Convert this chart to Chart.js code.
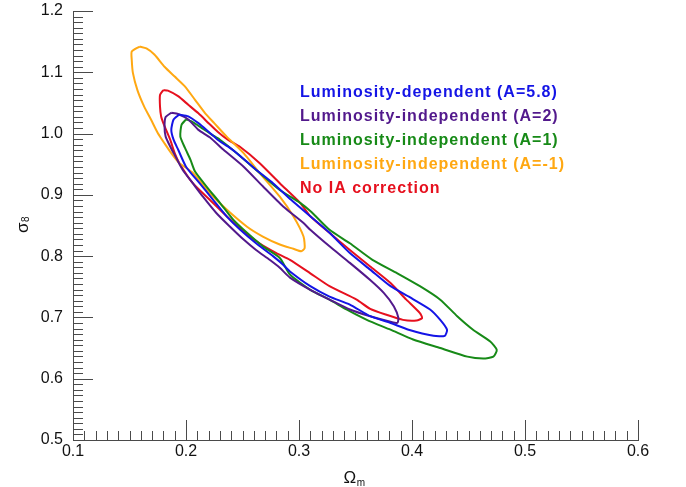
<!DOCTYPE html>
<html>
<head>
<meta charset="utf-8">
<script src="https://cdn.jsdelivr.net/npm/chart.js@4/dist/chart.umd.min.js"></script>
<style>
  html, body { margin: 0; background: #fff; }
  #wrap { width: 686px; height: 487px; }
</style>
</head>
<body>
<div id="wrap"><canvas id="c"></canvas></div>
<script>
// axis ticks
const xTickValues = [0.1, 0.2, 0.3, 0.4, 0.5, 0.6];
const yTickValues = [0.5, 0.6, 0.7, 0.8, 0.9, 1.0, 1.1, 1.2];
const xMinorPerMajor = 10;
const yMinorPerMajor = 11;

const seriesNames = [
  "Luminosity-dependent (A=5.8)",
  "Luminosity-independent (A=2)",
  "Luminosity-independent (A=1)",
  "Luminosity-independent (A=-1)",
  "No IA correction"
];
const seriesColors = ["#1414e6", "#52198c", "#178a17", "#ffa812", "#e6101e"];

// contour outlines, Omega_m / sigma_8
const omLumDep = [0.194,0.202,0.211,0.220,0.228,0.237,0.245,0.262,0.277,0.293,0.310,0.327,0.345,0.363,0.381,0.398,0.416,0.425,0.431,0.429,0.419,0.397,0.381,0.363,0.345,0.327,0.310,0.292,0.286,0.277,0.262,0.248,0.236,0.224,0.212,0.200,0.193,0.189,0.187,0.189];
const s8LumDep = [1.031,1.028,1.017,1.003,0.990,0.979,0.968,0.941,0.919,0.892,0.865,0.838,0.805,0.778,0.751,0.733,0.713,0.696,0.680,0.670,0.670,0.680,0.691,0.702,0.721,0.734,0.751,0.775,0.786,0.800,0.821,0.843,0.865,0.892,0.919,0.946,0.974,0.990,1.006,1.023];

const omIndepA2 = [0.187,0.193,0.202,0.211,0.221,0.233,0.251,0.268,0.286,0.304,0.310,0.327,0.345,0.363,0.375,0.384,0.388,0.387,0.381,0.363,0.345,0.327,0.310,0.292,0.283,0.274,0.262,0.251,0.239,0.227,0.215,0.206,0.197,0.190,0.186,0.182,0.181,0.182];
const s8IndepA2 = [1.034,1.032,1.023,1.006,0.994,0.974,0.946,0.914,0.881,0.854,0.843,0.816,0.789,0.761,0.740,0.718,0.699,0.691,0.693,0.702,0.713,0.729,0.745,0.765,0.781,0.794,0.810,0.827,0.848,0.870,0.897,0.919,0.941,0.965,0.979,0.995,1.012,1.027];

const omIndepA1 = [0.200,0.205,0.214,0.223,0.230,0.245,0.265,0.283,0.301,0.311,0.327,0.345,0.365,0.387,0.407,0.425,0.440,0.454,0.469,0.475,0.472,0.463,0.449,0.425,0.401,0.381,0.360,0.342,0.327,0.310,0.292,0.283,0.268,0.254,0.242,0.230,0.218,0.208,0.204,0.199,0.195,0.196];
const s8IndepA1 = [1.023,1.020,1.009,0.998,0.990,0.968,0.936,0.908,0.887,0.872,0.843,0.821,0.794,0.772,0.751,0.729,0.702,0.680,0.661,0.647,0.636,0.633,0.636,0.650,0.664,0.680,0.696,0.713,0.729,0.745,0.770,0.797,0.816,0.838,0.859,0.887,0.914,0.938,0.957,0.977,0.995,1.014];

const omIndepAm1 = [0.159,0.165,0.172,0.181,0.190,0.199,0.208,0.217,0.225,0.236,0.251,0.265,0.283,0.295,0.304,0.305,0.302,0.295,0.283,0.268,0.254,0.236,0.221,0.206,0.194,0.187,0.181,0.175,0.169,0.163,0.157,0.153,0.152,0.152];
const s8IndepAm1 = [1.142,1.139,1.129,1.109,1.093,1.077,1.055,1.033,1.017,0.995,0.968,0.936,0.897,0.865,0.832,0.813,0.808,0.812,0.819,0.832,0.848,0.876,0.903,0.936,0.952,0.968,0.984,1.001,1.023,1.044,1.071,1.099,1.120,1.134];

const omNoIA = [0.180,0.184,0.193,0.202,0.211,0.220,0.228,0.237,0.248,0.265,0.283,0.301,0.310,0.327,0.345,0.363,0.381,0.395,0.407,0.409,0.404,0.392,0.378,0.363,0.351,0.327,0.310,0.292,0.280,0.265,0.251,0.236,0.221,0.206,0.194,0.190,0.186,0.181,0.178,0.177,0.177];
const s8NoIA = [1.071,1.070,1.061,1.047,1.033,1.017,1.003,0.990,0.978,0.952,0.919,0.887,0.865,0.838,0.810,0.783,0.756,0.729,0.707,0.699,0.695,0.696,0.704,0.714,0.729,0.751,0.772,0.794,0.805,0.821,0.840,0.865,0.892,0.919,0.952,0.968,0.990,1.012,1.028,1.044,1.063];

const contours = [
  [omLumDep, s8LumDep],
  [omIndepA2, s8IndepA2],
  [omIndepA1, s8IndepA1],
  [omIndepAm1, s8IndepAm1],
  [omNoIA, s8NoIA]
];

function closedLine(xs, ys) {
  const pts = xs.map((x, i) => ({ x: x, y: ys[i] }));
  pts.push(pts[0]);
  return pts;
}

const AXIS = "#4a4a4a";
const FONT = "'Liberation Sans', Arial, Helvetica, sans-serif";

const overlay = {
  id: "overlay",
  afterDraw(chart) {
    const ctx = chart.ctx;
    const xs = chart.scales.x, ys = chart.scales.y;
    const left = xs.left, bottom = ys.bottom;
    ctx.save();
    ctx.strokeStyle = AXIS;
    ctx.lineWidth = 1;
    ctx.beginPath();
    // x ticks pointing up into the plot
    for (let k = 0; k < xTickValues.length; k++) {
      const v0 = xTickValues[k];
      const px = Math.round(xs.getPixelForValue(v0)) + 0.5;
      ctx.moveTo(px, bottom); ctx.lineTo(px, bottom - 20);
      if (k < xTickValues.length - 1) {
        const step = (xTickValues[k + 1] - v0) / xMinorPerMajor;
        for (let m = 1; m < xMinorPerMajor; m++) {
          const p = Math.round(xs.getPixelForValue(v0 + m * step)) + 0.5;
          ctx.moveTo(p, bottom); ctx.lineTo(p, bottom - 9);
        }
      }
    }
    // y ticks pointing right into the plot
    for (let k = 0; k < yTickValues.length; k++) {
      const v0 = yTickValues[k];
      const py = Math.round(ys.getPixelForValue(v0)) + 0.5;
      ctx.moveTo(left, py); ctx.lineTo(left + 20, py);
      if (k < yTickValues.length - 1) {
        const step = (yTickValues[k + 1] - v0) / yMinorPerMajor;
        for (let m = 1; m < yMinorPerMajor; m++) {
          const p = Math.round(ys.getPixelForValue(v0 + m * step)) + 0.5;
          ctx.moveTo(left, p); ctx.lineTo(left + 10, p);
        }
      }
    }
    ctx.stroke();

    // axis titles
    ctx.fillStyle = "#111";
    ctx.textBaseline = "alphabetic";
    ctx.textAlign = "left";
    ctx.font = "17px " + FONT;
    const cx = (xs.left + xs.right) / 2;
    const wOm = ctx.measureText("Ω").width;
    ctx.fillText("Ω", cx - 12, 483);
    ctx.font = "10px " + FONT;
    ctx.fillText("m", cx - 12 + wOm + 0.5, 486);

    ctx.save();
    ctx.translate(28, 233);
    ctx.rotate(-Math.PI / 2);
    ctx.font = "17px " + FONT;
    const wSig = ctx.measureText("σ").width;
    ctx.fillText("σ", 0, 0);
    ctx.font = "10px " + FONT;
    ctx.fillText("8", wSig + 0.5, 1);
    ctx.restore();

    // legend, plain coloured text
    ctx.font = "bold 16px " + FONT;
    ctx.letterSpacing = "1px";
    chart.data.datasets.forEach((ds, i) => {
      ctx.fillStyle = ds.borderColor;
      ctx.fillText(ds.label, 300, 97 + i * 24.1);
    });
    ctx.restore();
  }
};

new Chart(document.getElementById("c"), {
  type: "scatter",
  data: {
    datasets: contours.map((c, i) => ({
      label: seriesNames[i],
      data: closedLine(c[0], c[1]),
      showLine: true,
      borderColor: seriesColors[i],
      backgroundColor: seriesColors[i],
      borderWidth: 2,
      pointRadius: 0,
      tension: 0.2,
      fill: false
    }))
  },
  plugins: [overlay],
  options: {
    responsive: true,
    maintainAspectRatio: false,
    animation: false,
    layout: { padding: { top: 11, right: 48, left: 0, bottom: 0 } },
    plugins: {
      legend: { display: false },
      tooltip: { enabled: false }
    },
    scales: {
      x: {
        type: "linear",
        min: 0.1,
        max: 0.6,
        afterBuildTicks: s => { s.ticks = xTickValues.map(v => ({ value: v })); },
        afterFit: s => { s.height = 47; s.paddingLeft = 0; s.paddingRight = 0; },
        grid: { display: false, drawTicks: false },
        border: { display: true, color: AXIS, width: 1 },
        ticks: {
          padding: 2,
          color: "#111",
          font: { family: FONT, size: 16 },
          callback: v => v.toFixed(1),
          maxRotation: 0,
          autoSkip: false
        }
      },
      y: {
        type: "linear",
        min: 0.5,
        max: 1.2,
        afterBuildTicks: s => { s.ticks = yTickValues.map(v => ({ value: v })); },
        afterFit: s => { s.width = 73; s.paddingTop = 0; s.paddingBottom = 0; },
        grid: { display: false, drawTicks: false },
        border: { display: true, color: AXIS, width: 1 },
        ticks: {
          padding: 10,
          color: "#111",
          font: { family: FONT, size: 16 },
          callback: v => v.toFixed(1),
          autoSkip: false
        }
      }
    }
  }
});
</script>
</body>
</html>
